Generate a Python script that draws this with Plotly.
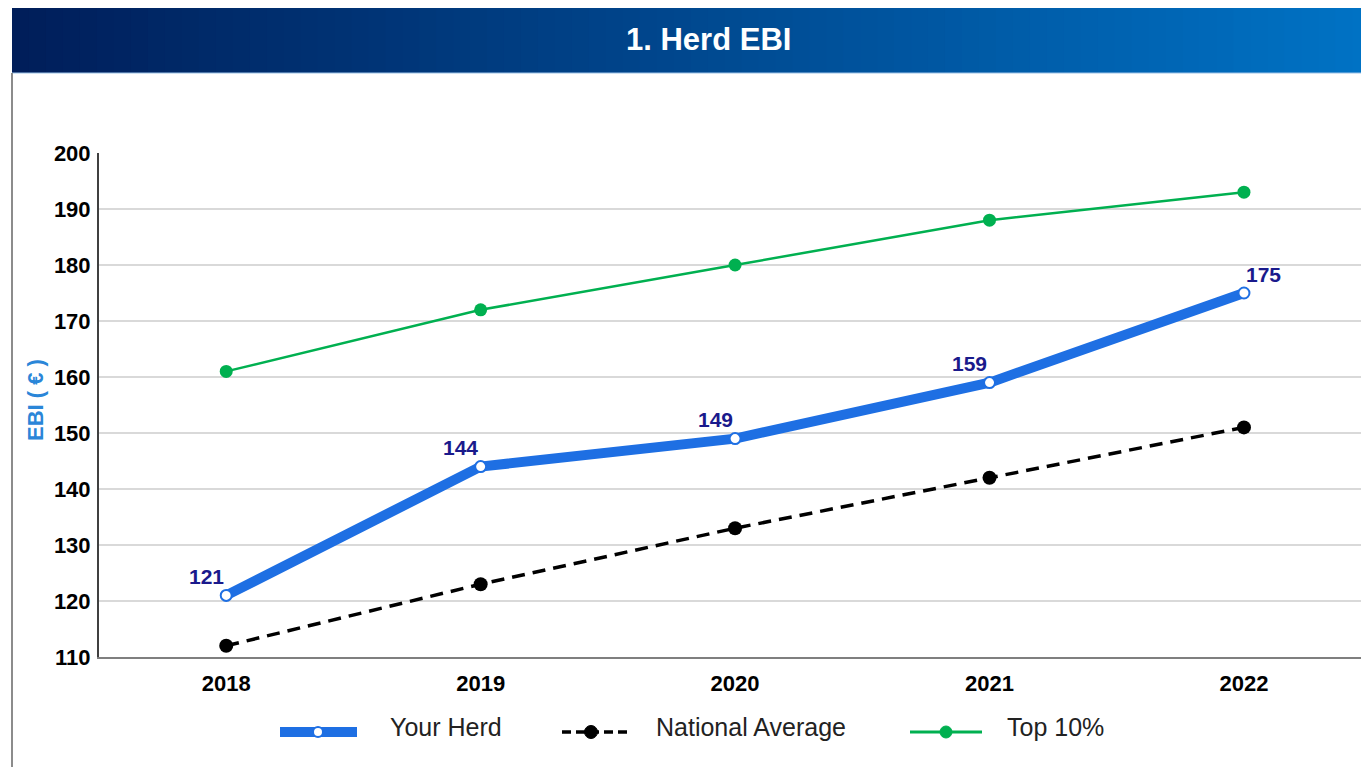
import plotly.graph_objects as go

years = ["2018", "2019", "2020", "2021", "2022"]
your_herd = [121, 144, 149, 159, 175]
national_avg = [112, 123, 133, 142, 151]
top_10 = [161, 172, 180, 188, 193]
herd_label_side = [-1, -1, -1, -1, 1]
y_ticks = [110, 120, 130, 140, 150, 160, 170, 180, 190, 200]

# page has an 8px body margin: figure drawn at page offset (8, 8)
OFF = 8
W, H = 1353, 759
# plot area in page pixels: x 99..1361, y 153..657
L, R, T, B = 99 - OFF, 0, 153 - OFF, H - (657 - OFF)
PW, PH = W - L - R, H - T - B


def px_x(x):
    return (x - OFF - L) / PW


def px_y(y):
    return (H - B - (y - OFF)) / PH


FONT = "Arial, Liberation Sans, sans-serif"
BLUE = "#1E6FE3"
GREEN = "#00B050"

fig = go.Figure()

fig.add_trace(go.Scatter(
    x=years, y=top_10, mode="lines+markers", name="Top 10%",
    line=dict(color=GREEN, width=2.5),
    marker=dict(color=GREEN, size=13),
    showlegend=False, cliponaxis=False))

fig.add_trace(go.Scatter(
    x=years, y=national_avg, mode="lines+markers", name="National Average",
    line=dict(color="black", width=3.5, dash="13px,8px"),
    marker=dict(color="black", size=14),
    showlegend=False, cliponaxis=False))

fig.add_trace(go.Scatter(
    x=years, y=your_herd, mode="lines+markers", name="Your Herd",
    line=dict(color=BLUE, width=10),
    marker=dict(color="white", size=11, line=dict(color=BLUE, width=2)),
    showlegend=False, cliponaxis=False))

shapes = []
# header gradient
c0 = (0, 30, 90)
c1 = (0, 114, 196)
n = 80
x_start, x_end = 12, 1369
for i in range(n):
    f = i / (n - 1)
    col = "rgb(%d,%d,%d)" % tuple(round(c0[k] + (c1[k] - c0[k]) * f) for k in range(3))
    xa = x_start + (x_end - x_start) * i / n
    xb = x_start + (x_end - x_start) * (i + 1) / n + 1
    shapes.append(dict(type="rect", xref="paper", yref="paper",
                       x0=px_x(xa), x1=px_x(xb), y0=px_y(73), y1=px_y(OFF),
                       fillcolor=col, line=dict(width=0), layer="below"))
shapes.append(dict(type="line", xref="paper", yref="paper",
                   x0=px_x(12), x1=px_x(1369), y0=px_y(73), y1=px_y(73),
                   line=dict(color="#9CC3E8", width=1)))
# left border
shapes.append(dict(type="line", xref="paper", yref="paper",
                   x0=px_x(12), x1=px_x(12), y0=px_y(73), y1=px_y(775),
                   line=dict(color="#8C8C8C", width=2)))

# manual legend
leg_y = 732


def circle(xc, yc, r, fill, border, bw):
    return dict(type="circle", xref="paper", yref="paper",
                xsizemode="pixel", ysizemode="pixel",
                xanchor=px_x(xc), yanchor=px_y(yc),
                x0=-r, x1=r, y0=-r, y1=r,
                fillcolor=fill, line=dict(color=border, width=bw))


shapes.append(dict(type="line", xref="paper", yref="paper",
                   x0=px_x(280), x1=px_x(357), y0=px_y(leg_y), y1=px_y(leg_y),
                   line=dict(color=BLUE, width=10)))
shapes.append(circle(318, leg_y, 5, "white", BLUE, 2))
shapes.append(dict(type="line", xref="paper", yref="paper",
                   x0=px_x(562), x1=px_x(628), y0=px_y(leg_y), y1=px_y(leg_y),
                   line=dict(color="black", width=3.5, dash="9px,5px")))
shapes.append(circle(591, leg_y, 6.5, "black", "black", 1))
shapes.append(dict(type="line", xref="paper", yref="paper",
                   x0=px_x(910), x1=px_x(982), y0=px_y(leg_y), y1=px_y(leg_y),
                   line=dict(color=GREEN, width=3)))
shapes.append(circle(946, leg_y, 6, GREEN, GREEN, 1))

annotations = [
    dict(text="1. Herd EBI", xref="paper", yref="paper", x=px_x(708), y=px_y(40),
         showarrow=False, xanchor="center", yanchor="middle",
         font=dict(family=FONT, size=31, color="white", weight="bold")),
    dict(text="EBI ( € )", xref="paper", yref="paper", x=px_x(35), y=px_y(400),
         showarrow=False, xanchor="center", yanchor="middle", textangle=-90,
         font=dict(family=FONT, size=22, color="#2A86D8", weight="bold")),
]
for label, xl in [("Your Herd", 388), ("National Average", 654), ("Top 10%", 1005)]:
    annotations.append(dict(text=label, xref="paper", yref="paper",
                            x=px_x(xl), y=px_y(727), showarrow=False,
                            xanchor="left", yanchor="middle",
                            font=dict(family=FONT, size=25, color="#222222")))
# data labels for Your Herd (category index on the x axis)
for i, (v, side) in enumerate(zip(your_herd, herd_label_side)):
    annotations.append(dict(text=str(v), xref="x", yref="y", x=i, y=v,
                            showarrow=False, xanchor="center", yanchor="middle",
                            xshift=20 * side, yshift=19,
                            font=dict(family=FONT, size=21, color="#1A1A8C",
                                      weight="bold")))

fig.update_layout(
    width=W, height=H,
    margin=dict(l=L, r=R, t=T, b=B, pad=0),
    paper_bgcolor="white", plot_bgcolor="white",
    shapes=shapes, annotations=annotations,
    showlegend=False,
    xaxis=dict(type="category", range=[-0.5, 4.46], showgrid=False,
               showline=True, linecolor="#7F7F7F", linewidth=2,
               ticks="", ticklabelstandoff=6, zeroline=False,
               tickfont=dict(family=FONT, size=22, color="black", weight="bold")),
    yaxis=dict(range=[110, 200], tickvals=y_ticks, showgrid=True,
               gridcolor="#D9D9D9", gridwidth=2,
               showline=True, linecolor="#404040", linewidth=2,
               ticks="", ticklabelstandoff=2, zeroline=False,
               tickfont=dict(family=FONT, size=22, color="black", weight="bold")),
)

fig.write_html("out.html")
